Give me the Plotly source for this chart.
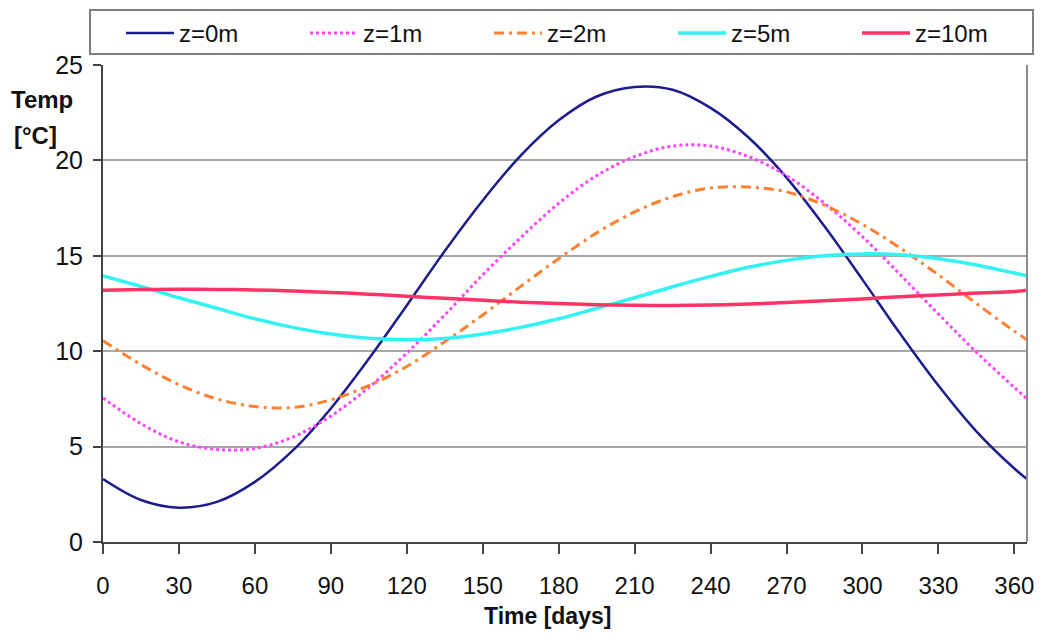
import plotly.graph_objects as go

days = [0, 15, 30, 45, 60, 75, 90, 105, 120, 135, 150, 165, 180, 195, 210,
        225, 240, 255, 270, 285, 300, 315, 330, 345, 360, 365]

z0m = [3.3, 2.2, 1.8, 2.1, 3.15, 4.8, 7.0, 9.6, 12.4, 15.25, 17.9, 20.25, 22.1, 23.35, 23.85,
       23.7, 22.75, 21.2, 19.1, 16.55, 13.75, 10.9, 8.2, 5.8, 3.85, 3.3]
z1m = [7.55, 6.2, 5.25, 4.85, 4.9, 5.5, 6.6, 8.1, 9.9, 11.9, 14.0, 15.95, 17.75, 19.2, 20.2,
       20.75, 20.75, 20.2, 19.2, 17.75, 16.0, 14.0, 11.95, 9.95, 8.1, 7.5]
z2m = [10.55, 9.3, 8.25, 7.5, 7.1, 7.05, 7.45, 8.2, 9.2, 10.5, 11.9, 13.4, 14.85, 16.2, 17.3,
       18.1, 18.55, 18.6, 18.35, 17.65, 16.65, 15.4, 14.0, 12.5, 11.05, 10.6]
z5m = [13.95, 13.4, 12.8, 12.25, 11.7, 11.25, 10.9, 10.68, 10.6, 10.67, 10.9, 11.25, 11.7, 12.25, 12.8,
       13.38, 13.92, 14.4, 14.76, 15.0, 15.1, 15.05, 14.85, 14.52, 14.1, 13.95]
z10m = [13.2, 13.23, 13.25, 13.24, 13.21, 13.16, 13.08, 12.99, 12.88, 12.77, 12.67, 12.57, 12.5, 12.44, 12.41,
        12.4, 12.42, 12.47, 12.55, 12.64, 12.74, 12.85, 12.95, 13.05, 13.13, 13.2]

series_names = ["z=0m", "z=1m", "z=2m", "z=5m", "z=10m"]
series_vals = [z0m, z1m, z2m, z5m, z10m]
colors = ["#1c1c8c", "#ff44ff", "#ff8030", "#33f2f2", "#ff3366"]
dashes = ["solid", "dot", "10px,5px,3px,5px", "solid", "solid"]
widths = [2.5, 3, 3, 3.5, 3.5]

x_ticks = [0, 30, 60, 90, 120, 150, 180, 210, 240, 270, 300, 330, 360]
y_ticks = [0, 5, 10, 15, 20, 25]

FONT = "Liberation Sans, Arial, sans-serif"
OFF = 8                       # page body margin
W, H = 1043 - 2 * OFF, 640 - 2 * OFF
L, T = 103 - OFF, 65 - OFF
R = W - (1027 - OFF)
B = H - (542 - OFF)
PW, PH = W - L - R, H - T - B


def px_x(sx):
    return (sx - OFF - L) / PW


def px_y(sy):
    return (H - B - (sy - OFF)) / PH


fig = go.Figure()
for name, vals, c, d, w in zip(series_names, series_vals, colors, dashes, widths):
    fig.add_trace(go.Scatter(
        x=days, y=vals, name=name, mode="lines",
        line=dict(color=c, dash=d, width=w, shape="spline", smoothing=1.0),
    ))

fig.update_layout(
    width=W, height=H,
    margin=dict(l=L, r=R, t=T, b=B, autoexpand=False),
    paper_bgcolor="white", plot_bgcolor="white",
    font=dict(family=FONT, color="#111111", size=22),
    showlegend=True,
    legend=dict(
        orientation="h", x=(121 - OFF) / W, y=1 - 3 / H, xanchor="left", yanchor="top",
        xref="container", yref="container",
        borderwidth=0, bgcolor="rgba(0,0,0,0)",
        font=dict(family=FONT, size=24, color="#111111"),
        entrywidth=121, entrywidthmode="pixels",
        itemwidth=48, tracegroupgap=0,
    ),
    xaxis=dict(
        range=[0, 365], tickvals=x_ticks, ticktext=[str(v) for v in x_ticks],
        showgrid=False, zeroline=False, automargin=False,
        showline=True, linecolor="#444444", linewidth=2,
        ticks="outside", ticklen=10, tickwidth=2, tickcolor="#444444",
        tickfont=dict(family=FONT, size=24, color="#111111"),
        ticklabelstandoff=11,
    ),
    yaxis=dict(
        range=[0, 25], tickvals=y_ticks, ticktext=[str(v) for v in y_ticks],
        showgrid=True, gridcolor="#a8a8a8", gridwidth=2,
        zeroline=False, automargin=False,
        showline=True, linecolor="#444444", linewidth=2,
        ticks="outside", ticklen=8, tickwidth=2, tickcolor="#444444",
        tickfont=dict(family=FONT, size=25, color="#111111"),
        ticklabelstandoff=5,
    ),
)

# right border of plot frame
fig.add_shape(type="line", xref="x domain", yref="y domain", x0=1, x1=1, y0=0, y1=1,
              line=dict(color="#8a8a8a", width=2))
# legend frame
fig.add_shape(type="rect", xref="paper", yref="paper",
              x0=px_x(90), x1=px_x(1033), y0=px_y(54), y1=px_y(10),
              line=dict(color="#808080", width=2), fillcolor="rgba(0,0,0,0)", layer="below")

fig.add_annotation(text="<b>Temp</b>", xref="paper", yref="paper",
                   x=px_x(9), y=px_y(99), xanchor="left", yanchor="middle",
                   showarrow=False, font=dict(family=FONT, size=24, color="#111111"))
fig.add_annotation(text="<b>[°C]</b>", xref="paper", yref="paper",
                   x=px_x(12), y=px_y(135), xanchor="left", yanchor="middle",
                   showarrow=False, font=dict(family=FONT, size=24, color="#111111"))
fig.add_annotation(text="<b>Time [days]</b>", xref="paper", yref="paper",
                   x=px_x(547), y=px_y(616), xanchor="center", yanchor="middle",
                   showarrow=False, font=dict(family=FONT, size=23, color="#111111"))

fig.write_html("out.html")
